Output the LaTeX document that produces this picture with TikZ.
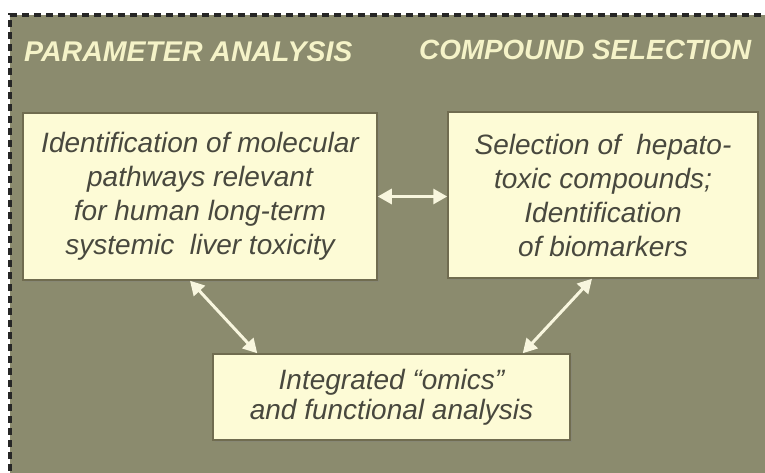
\documentclass[tikz,border=0pt]{standalone}
\usepackage{fontspec}
\setmainfont{Liberation Sans}
\usetikzlibrary{arrows.meta, calc, shadows}
\definecolor{olivebg}{RGB}{139,139,110}
\definecolor{boxfill}{RGB}{253,251,214}
\definecolor{boxline}{RGB}{112,108,80}
\definecolor{headcream}{RGB}{245,243,200}
\definecolor{textgray}{RGB}{72,72,62}
\definecolor{arrowcream}{RGB}{248,246,222}

\begin{document}
\begin{tikzpicture}[x=1pt, y=1pt,
  font=\fontsize{28}{34}\selectfont\itshape,
  infobox/.style={draw=boxline, line width=1.5pt, fill=boxfill, text=textgray, align=center, inner sep=0pt,
    drop shadow={shadow xshift=2pt, shadow yshift=-2pt, opacity=0.35}},
  heading/.style={text=headcream, font=\fontsize{28.5}{34}\selectfont\bfseries\itshape, anchor=base west, inner sep=0pt},
  link/.style={arrowcream, line width=3pt, {Triangle[length=14pt,width=15pt]}-{Triangle[length=14pt,width=15pt]}}]
  \useasboundingbox (0,0) rectangle (765,473);
  % panel with dashed frame
  \fill[olivebg] (10,-10) rectangle (780,458);
  \draw[black!85, line width=3.5pt, dash pattern=on 7pt off 5pt] (10,-10) -- (10,458) -- (780,458);

  \node[heading] (param) at (24,411) {PARAMETER ANALYSIS};
  \node[heading, font=\fontsize{27.8}{34}\selectfont\bfseries\itshape] (select) at (419,413) {COMPOUND SELECTION};

  \node[infobox, minimum width=354pt, minimum height=167pt] (pathways) at (200,276.5)
    {Identification of molecular\\ pathways relevant\\ for human long-term\\ systemic~ liver toxicity};
  \node[infobox, minimum width=310pt, minimum height=166pt] (compounds) at (603,278)
    {Selection of~ hepato-\\ toxic compounds;\\ Identification\\ of biomarkers};
  \node[infobox, minimum width=357pt, minimum height=86pt, font=\fontsize{28}{30}\selectfont\itshape] (omics) at (391.5,76)
    {Integrated ``omics''\\ and functional analysis};

  % connectors
  \draw[link] (pathways.east) -- (pathways.east -| compounds.west);
  \draw[link] ($(pathways.south)+(-10,0)$) -- ($(omics.north west)+(45,0)$);
  \draw[link] ($(compounds.south)+(-11,0)$) -- ($(omics.north east)+(-48,0)$);
\end{tikzpicture}
\end{document}
